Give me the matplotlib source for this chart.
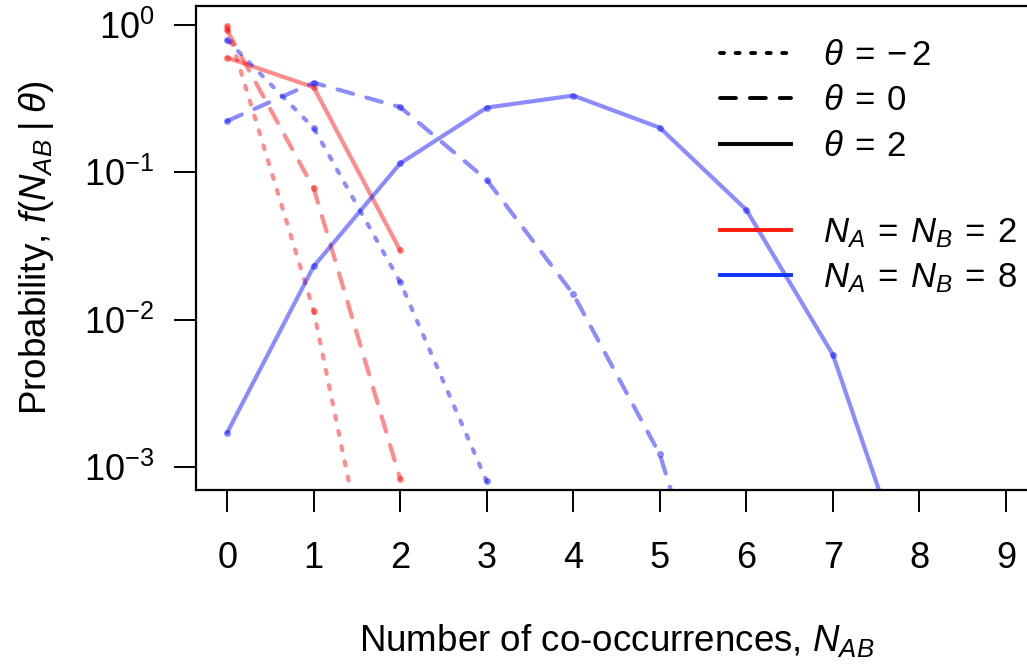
import numpy as np
import matplotlib
matplotlib.use('Agg')
import matplotlib.pyplot as plt
from matplotlib.lines import Line2D

plt.rcParams['font.family'] = ['Liberation Sans', 'DejaVu Sans']
plt.rcParams['mathtext.fontset'] = 'custom'
plt.rcParams['mathtext.rm'] = 'Liberation Sans'
plt.rcParams['mathtext.it'] = 'Liberation Sans:italic'
plt.rcParams['mathtext.bf'] = 'Liberation Sans:bold'
plt.rcParams['lines.scale_dashes'] = False

# ── data: probability of N_AB co-occurrences ─────────────────────────────────
x_small = [0, 1, 2]
x_large = [0, 1, 2, 3, 4, 5, 6, 7, 8]

# N_A = N_B = 2
p_small_neg2 = [0.98, 0.0115, 1.6e-5]
p_small_0 = [0.92, 0.078, 8.3e-4]
p_small_2 = [0.60, 0.378, 0.0295]

# N_A = N_B = 8
p_large_neg2 = [0.79, 0.20, 0.018, 8.0e-4, 1.5e-5, 1e-7, 1e-9, 1e-11, 1e-13]
p_large_0 = [0.223, 0.406, 0.277, 0.089, 0.0149, 1.22e-3, 1.6e-5, 1e-7, 1e-9]
p_large_2 = [1.71e-3, 0.023, 0.115, 0.275, 0.332, 0.201, 0.0557, 5.8e-3, 1.1e-4]

thetas = ['{-}\\,2', '0', '2']
sizes = ['2', '8']

# ── styles ───────────────────────────────────────────────────────────────────
red_a = (1, 0, 0, 0.45)
blue_a = (0, 0, 1, 0.45)
dot_dash = (0, (2.9, 8.3))
long_dash = (0, (11.5, 10.0))
styles = [dot_dash, long_dash, '-']

fig = plt.figure(figsize=(10.27, 6.66), dpi=100)
ax = fig.add_axes([196 / 1027, 1 - 490 / 666, 841 / 1027, 484 / 666])

series = [
    (x_small, [p_small_neg2, p_small_0, p_small_2], red_a),
    (x_large, [p_large_neg2, p_large_0, p_large_2], blue_a),
]
for xs, ps, col in series:
    for p, ls in zip(ps, styles):
        ax.plot(xs, p, color=col, lw=3, linestyle=ls,
                dash_capstyle='round', solid_capstyle='round',
                marker='o', markersize=5, markeredgewidth=0)

ax.set_yscale('log')
ax.set_xlim(-0.36, 9.36)
ax.set_ylim(10 ** -3.156, 10 ** 0.129)
ax.set_xticks(range(10))
ax.set_yticks([1e-3, 1e-2, 1e-1, 1])
ax.yaxis.set_minor_locator(matplotlib.ticker.NullLocator())

for s in ax.spines.values():
    s.set_linewidth(1.6)
ax.tick_params(axis='both', which='major', length=16, width=1.4,
               labelsize=26, direction='out')
ax.tick_params(axis='x', pad=21)
ax.tick_params(axis='y', pad=14)

ax.set_xlabel('Number of co-occurrences, $N_{AB}$', fontsize=26.5, labelpad=33)
ax.set_ylabel('Probability, $f(N_{AB}\\;|\\;\\theta)$', fontsize=26.5, labelpad=20)

# ── legends ──────────────────────────────────────────────────────────────────
leg_kw = dict(frameon=False, fontsize=25, handlelength=2.05,
              handletextpad=0.93, borderaxespad=0, borderpad=0)

theta_handles = [Line2D([], [], color='black', lw=2.8, linestyle=ls,
                        dash_capstyle='round') for ls in styles]
theta_labels = ['$\\theta\\:=\\:' + t + '$' for t in thetas]
leg1 = fig.legend(theta_handles, theta_labels, loc='upper left',
                  bbox_to_anchor=(720 / 1027, 1 - 39 / 666),
                  labelspacing=0.36, **leg_kw)

size_handles = [Line2D([], [], color=(1, 0.1, 0.05), lw=2.8),
                Line2D([], [], color=(0.05, 0.2, 1), lw=2.8)]
size_labels = ['$N_A\\:=\\:N_B\\:=\\:' + n + '$' for n in sizes]
leg2 = fig.legend(size_handles, size_labels, loc='center left',
                  bbox_to_anchor=(720 / 1027, 1 - 255.5 / 666),
                  labelspacing=0.31, **leg_kw)

fig.savefig('out.png', dpi=100)
